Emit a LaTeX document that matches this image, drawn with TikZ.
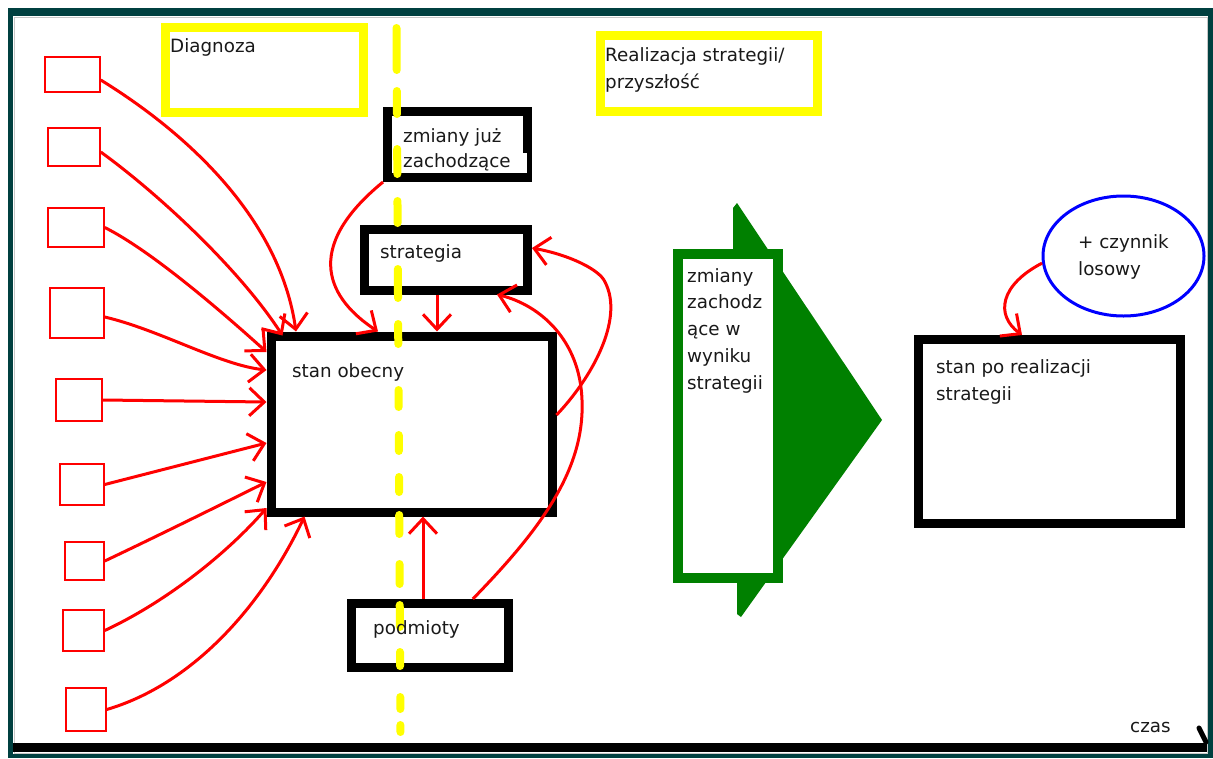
\documentclass[tikz,border=0pt]{standalone}
\usepackage{fontspec}
\setmainfont{DejaVu Sans}
\usetikzlibrary{arrows.meta,shapes.geometric}
\definecolor{frameteal}{RGB}{0,64,64}
\definecolor{dgreen}{RGB}{0,128,0}
\definecolor{pyellow}{RGB}{255,255,0}
\definecolor{pred}{RGB}{255,0,0}
\definecolor{pblue}{RGB}{0,0,255}
\tikzset{
  bbox/.style={draw=black, line width=9pt, inner sep=0pt, fill=white},
  ybox/.style={draw=pyellow, line width=9pt, inner sep=0pt},
  sq/.style={draw=pred, line width=1.5pt, inner sep=0pt},
  rl/.style={draw=pred, line width=3pt, -{Straight Barb[length=15pt,width=28pt]}},
  ydash/.style={draw=pyellow, line width=8pt, line cap=round},
  txt/.style={inner sep=0pt, anchor=base west, align=left, text=black!90,
              font=\fontsize{18.3}{26.7}\selectfont},
}
\begin{document}
\begin{tikzpicture}[x=1pt,y=-1pt]
\useasboundingbox (0,0) rectangle (1213,758);
% frame
\fill[frameteal] (8,8) rectangle (1213,758);
\fill[white] (13,16) rectangle (1208,754);
\draw[black!22, line width=1pt] (14,17) rectangle (1207,753);

% yellow header boxes
\node[ybox, minimum width=198.5pt, minimum height=85pt] (diag) at (264.25,70) {};
\node[ybox, minimum width=217pt, minimum height=76pt] (real) at (708.5,73.5) {};

% black boxes
\node[bbox, minimum width=140pt, minimum height=66pt] (zmj) at (457.5,144.5) {};
\fill[white] (522.7,153) rectangle (526.7,173);
\node[bbox, minimum width=163pt, minimum height=60.5pt] (strat) at (446,259.75) {};
\node[bbox, minimum width=281pt, minimum height=176pt] (so) at (411.5,424) {};
\node[bbox, minimum width=157.6pt, minimum height=64pt] (pod) at (429.8,635.5) {};
\node[bbox, minimum width=262pt, minimum height=184pt] (spr) at (1049.5,431.5) {};

% small red boxes
\node[sq, minimum width=55pt, minimum height=35pt] (s1) at (72.5,74.5) {};
\node[sq, minimum width=52pt, minimum height=38pt] (s2) at (74,147) {};
\node[sq, minimum width=56pt, minimum height=39pt] (s3) at (76,227.5) {};
\node[sq, minimum width=54pt, minimum height=50pt] (s4) at (77,313) {};
\node[sq, minimum width=46pt, minimum height=42pt] (s5) at (79,400) {};
\node[sq, minimum width=44pt, minimum height=41pt] (s6) at (82,484.5) {};
\node[sq, minimum width=39pt, minimum height=38pt] (s7) at (84.5,561) {};
\node[sq, minimum width=41pt, minimum height=41pt] (s8) at (83.5,630.5) {};
\node[sq, minimum width=40pt, minimum height=43pt] (s9) at (86,709.5) {};

% green arrow
\fill[dgreen] (733,262) -- (733,208) -- (737,203) -- (882,420) -- (741,617) -- (737,614) -- (737,570) -- cycle;
\node[draw=dgreen, line width=10pt, fill=white, inner sep=0pt, minimum width=100pt, minimum height=324pt] (gr) at (728,416) {};

% ellipse
\node[ellipse, draw=pblue, line width=3pt, inner sep=0pt, minimum width=161pt, minimum height=120pt] (ell) at (1123.5,256) {};

% yellow dashed divider
\foreach \a/\b in {24/74,87/118,145/178,197/227,265/302,320/348,386/411,431/455,473/496,511/538,560/588,601/631,648/670,693/713,721/736}
  \draw[ydash] ({396.5+0.0056*(\a-23)},{\a+4}) -- ({396.5+0.0056*(\b-31)},{\b-4});

% time axis
\coordinate (ax0) at (13,747.5);
\coordinate (ax1) at (1207,747.5);
\coordinate (axt) at (1199,728);
\draw[line width=9pt] (ax0) -- (ax1);
\draw[line width=5pt, line cap=round] (axt) -- (1206,742);

% texts (anchor = baseline of the last line)
\node[txt] (tdiag) at (170,52) {Diagnoza};
\node[txt] (treal) at (605,88.5) {Realizacja strategii/\\przyszłość};
\node[txt] (tzmj) at (403,167) {zmiany już\\[-1.7pt]zachodzące};
\node[txt] (tstrat) at (380,258) {strategia};
\node[txt] (tso) at (292,377) {stan obecny};
\node[txt] (tpod) at (373,634) {podmioty};
\node[txt] (tgr) at (687,389) {zmiany\\zachodz\\ące w\\wyniku\\strategii};
\node[txt] (tspr) at (936,400) {stan po realizacji\\strategii};
\node[txt] (tell) at (1078,275) {+ czynnik\\losowy};
\node[txt] (tczas) at (1130,732) {czas};

% red connectors
\draw[rl] ([yshift=-5.5]s1.east) .. controls (190,135) and (280,220) .. ([xshift=29.5]so.north west);
\draw[rl] ([yshift=-5]s2.east) .. controls (160,195) and (240,270) .. ([xshift=16,yshift=-4]so.north west);
\draw[rl] (s3.east) .. controls (150,250) and (220,310) .. ([yshift=72]so.west);
\draw[rl] ([yshift=-4]s4.east) .. controls (160,330) and (220,365) .. ([yshift=54]so.west);
\draw[rl] (s5.east) -- ([yshift=22]so.west);
\draw[rl] (s6.east) -- ([yshift=-19]so.west);
\draw[rl] (s7.east) .. controls (170,530) and (230,500) .. ([yshift=-58]so.west);
\draw[rl] (s8.east) .. controls (170,600) and (230,550) .. ([yshift=-84]so.west);
\draw[rl] (s9.east) .. controls (190,685) and (260,610) .. ([xshift=38]so.south west);

\draw[rl] (zmj.south west) .. controls (300,250) and (330,300) .. ([xshift=111.5]so.north west);
\draw[rl] ([xshift=-9]strat.south) -- ([xshift=25.5]so.north);
\draw[rl] ([xshift=-6.8]pod.north) -- ([xshift=11.5]so.south);
\draw[rl] ([xshift=43]pod.north) .. controls (540,530) and (585,470) .. (582,400)
          .. controls (580,340) and (540,305) .. ([xshift=51]strat.south);
\draw[rl] ([yshift=9]so.east) .. controls (590,380) and (625,320) .. (605,282)
          .. controls (600,270) and (570,255) .. ([yshift=11.75]strat.east);
\draw[rl] (ell.185) .. controls (1000,285) and (995,315) .. ([xshift=-27.5]spr.north);
\end{tikzpicture}
\end{document}
